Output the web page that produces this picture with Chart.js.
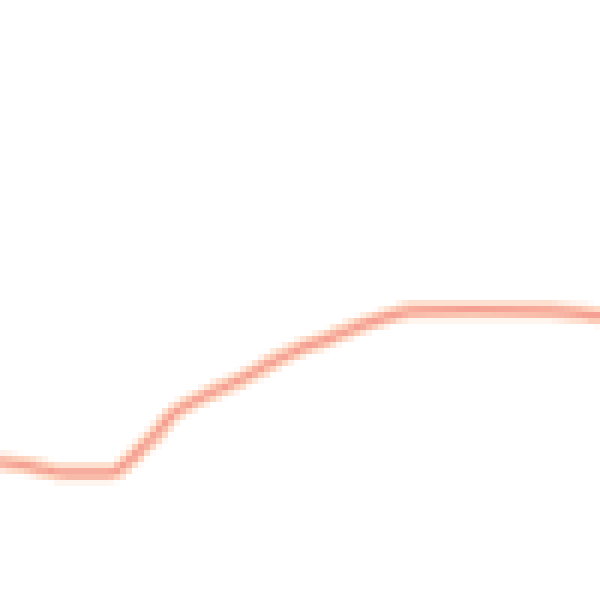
<!DOCTYPE html>
<html>
<head>
<meta charset="utf-8">
<script src="https://cdn.jsdelivr.net/npm/chart.js@4/dist/chart.umd.min.js"></script>
<style>
  html, body { margin: 0; padding: 0; background: #fff; }
  #wrap { width: 600px; height: 600px; }
  canvas { image-rendering: pixelated; }
</style>
</head>
<body>
<div id="wrap"><canvas id="lineChart"></canvas></div>
<script>
// x positions and heights (0..600 each way)
const xs = [0, 33, 67, 110, 130, 143, 160, 170, 187, 213, 240, 267, 293, 333, 367, 390, 410, 470, 550, 583, 600];
const heights = [138, 133, 127, 127, 140, 153, 170, 183, 195, 208, 220, 235, 248, 263, 277, 284, 289, 290, 289, 286, 284];

const points = xs.map((x, i) => ({ x: x, y: heights[i] }));

const ctx = document.getElementById('lineChart').getContext('2d');

new Chart(ctx, {
    type: 'line',
    data: {
        datasets: [
            {
                // core stroke
                data: points,
                borderColor: 'rgb(245,160,146)',
                borderWidth: 7,
                pointRadius: 0,
                cubicInterpolationMode: 'monotone',
                fill: false,
                order: 1
            },
            {
                // soft peach edge
                data: points,
                borderColor: 'rgb(253,214,192)',
                borderWidth: 18,
                pointRadius: 0,
                cubicInterpolationMode: 'monotone',
                fill: false,
                order: 2
            }
        ]
    },
    options: {
        responsive: true,
        maintainAspectRatio: false,
        animation: false,
        devicePixelRatio: 1 / 6,
        layout: { padding: 0 },
        plugins: { legend: { display: false }, tooltip: { enabled: false } },
        scales: {
            x: { type: 'linear', min: 0, max: 600, display: false },
            y: { min: 0, max: 600, display: false }
        }
    }
});
</script>
</body>
</html>
